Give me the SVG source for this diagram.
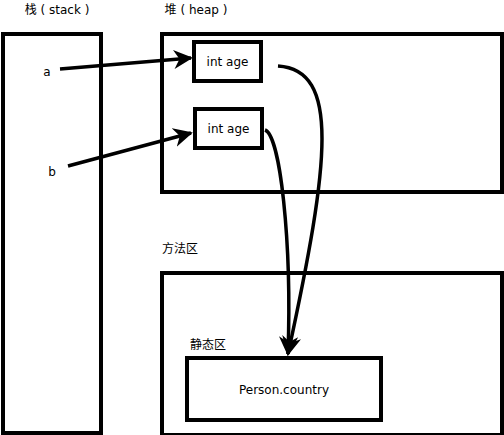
<svg xmlns="http://www.w3.org/2000/svg" width="504" height="435" viewBox="0 0 504 435">
<style>
text{font-family:"DejaVu Sans","Noto Sans CJK SC",sans-serif;font-size:12px;fill:#000}
.area{fill:none;stroke:#000;stroke-width:4}
.box{fill:#fff;stroke:#000;stroke-width:4}
.c{fill:none;stroke:#000;stroke-width:3.5}
</style>
<defs>
<marker id="ah" viewBox="0 0 10 10" refX="9" refY="5" markerWidth="5.5" markerHeight="5.5" orient="auto" markerUnits="strokeWidth">
<path d="M0,0 L10,5 L0,10 L3,5 z" fill="#000"/>
</marker>
</defs>
<rect x="0" y="0" width="504" height="435" fill="#fff"/>
<g id="stack">
<rect class="area" x="3" y="34" width="98" height="399"/>
<text x="57" y="14" text-anchor="middle">栈 ( stack )</text>
</g>
<g id="heap">
<rect class="area" x="162" y="34" width="340" height="158"/>
<text x="196" y="14" text-anchor="middle">堆 ( heap )</text>
</g>
<g id="method">
<rect class="area" x="162" y="273" width="340" height="162"/>
<text x="162" y="253">方法区</text>
<text x="190" y="349">静态区</text>
</g>
<g id="age1">
<rect class="box" x="194" y="42" width="67" height="39"/>
<text x="227.5" y="66" text-anchor="middle">int age</text>
</g>
<g id="age2">
<rect class="box" x="195" y="109" width="67" height="39"/>
<text x="228.5" y="133" text-anchor="middle">int age</text>
</g>
<g id="country">
<rect class="box" x="187" y="358" width="194" height="62"/>
<text x="284" y="394" text-anchor="middle">Person.country</text>
</g>
<g id="labels">
<text x="47" y="76" text-anchor="middle">a</text>
<text x="52" y="176" text-anchor="middle">b</text>
</g>
<g id="connectors">
<path class="c" d="M60,69 L191,58" marker-end="url(#ah)"/>
<path class="c" d="M68,166 L191,133" marker-end="url(#ah)"/>
<path class="c" d="M278,66 C340,70 330,160 288,354" marker-end="url(#ah)"/>
<path class="c" d="M265,130 C280,135 292,240 288,354" marker-end="url(#ah)"/>
</g>
</svg>
